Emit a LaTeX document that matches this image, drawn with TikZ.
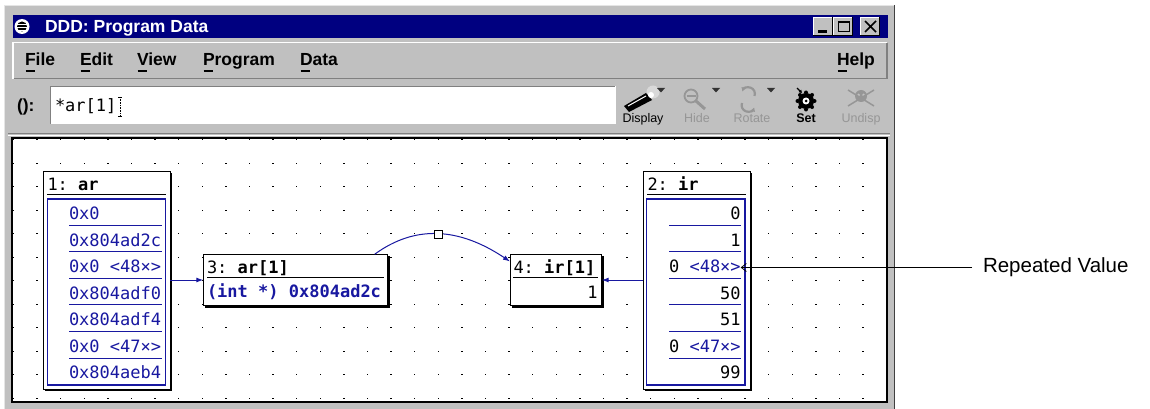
\documentclass[tikz,border=0pt]{standalone}
\usepackage{fontspec}
\setmainfont{Liberation Sans}
\setmonofont{DejaVu Sans Mono}
\usepackage{xcolor}
\usetikzlibrary{arrows.meta,shadows}

\definecolor{titleblue}{RGB}{0,0,128}
\definecolor{wingray}{RGB}{192,192,192}
\definecolor{shadegray}{RGB}{128,128,128}
\definecolor{offgray}{RGB}{150,150,150}
\definecolor{valblue}{RGB}{24,24,160}

\newcommand\guifont{\fontsize{17.5}{20}\selectfont\bfseries}
\newcommand\datafont{\ttfamily\fontsize{17}{20}\selectfont}
\newcommand\tipfont{\fontsize{12.5}{14}\selectfont}

\begin{document}
\begin{tikzpicture}[x=1pt, y=-1pt,
    every node/.style={inner sep=0pt, outer sep=0pt},
    databox/.style={draw, line width=1pt, fill=white,
      drop shadow={shadow xshift=2pt, shadow yshift=-2pt, fill=black, opacity=1}},
    valbox/.style={draw=valblue, line width=1.2pt},
    sepline/.style={valblue, line width=1pt},
    datatext/.style={font=\datafont, anchor=base west},
    dataedge/.style={valblue, line width=1pt, -{Latex[length=7pt,width=5pt]}},
    menuitem/.style={font=\guifont, anchor=base west},
    tiplabel/.style={font=\tipfont, anchor=base},
    callout/.style={line width=0.8pt, -{Straight Barb[length=5pt,width=8pt]}}]
	\useasboundingbox (0,0) rectangle (1150,409);
	
	% screen and window frame
	\fill[white] (0,0) rectangle (1150,409);
	\fill[wingray] (4,5) rectangle (895,409);
	\draw[white!90!black, line width=1pt] (4.5,409) -- (4.5,5.5) -- (894,5.5);
	\draw[black!75, line width=1.2pt] (894.4,5) -- (894.4,409);
	
	% title bar
	\fill[titleblue] (13,15) rectangle (888,38);
	\fill[white] (22,26.5) circle (7.5);
	\fill[black] (22,26.5) circle (5);
	\foreach \ly in {24,27,30} {
		\draw[white, line width=0.9pt] (17,\ly) -- (27,\ly);
	}
	\node[font=\guifont, text=white, anchor=base west] (title) at (45,33) {DDD: Program Data};
	\foreach \bx in {813,833,860} {
		\fill[wingray] (\bx,17) rectangle ++(20,19);
		\draw[white, line width=1pt] (\bx+0.5,36) -- (\bx+0.5,17.5) -- (\bx+20,17.5);
		\draw[black, line width=1pt] (\bx,35.5) -- (\bx+19.5,35.5) -- (\bx+19.5,17);
	}
	\fill (818,30.5) rectangle (827,33);
	\draw[line width=1pt] (838.5,21.5) rectangle (849.5,32);
	\fill (838,21) rectangle (850,23.5);
	\draw[line width=1.7pt] (865,21) -- (876,32) (876,21) -- (865,32);
	
	% menu bar
	\draw[white, line width=1.5pt] (13,79) -- (13,42.5) -- (887,42.5);
	\draw[shadegray, line width=1.5pt] (13.5,78.5) -- (887,78.5) -- (887,43);
	\foreach \mx/\mname in {25/File, 80/Edit, 137/View, 203/Program, 300/Data, 837/Help} {
		\node[menuitem] (menu-\mname) at (\mx,66) {\mname};
		\draw[line width=1.3pt] (\mx+0.5,71) -- (\mx+9.5,71);
	}
	
	% argument field
	\node[font=\guifont, anchor=base west] (prompt) at (17,111) {():};
	\fill[white] (50,86) rectangle (615,124);
	\draw[shadegray, line width=1pt] (50,124) -- (50,86.5) -- (615,86.5);
	\draw[white, line width=1pt] (50.5,124) -- (615,124) -- (615,86);
	\node[font=\datafont, anchor=base west] (arg) at (55,111) {*ar[1]};
	\draw[line width=0.6pt, densely dotted] (120,97) -- (120,116);
	\draw[line width=0.6pt] (118,97) -- (122,97) (118,116) -- (122,116);
	
	% toolbar
	\fill[black!15] (653,92) circle (6.5);
	\fill[black] (624,106) -- (646,93) -- (652,100) -- (629,112) -- cycle;
	\draw[white, line width=1pt] (628,106) -- (646,96);
	\fill[white] (651,95) circle (3);
	\draw[offgray, line width=1.8pt] (691,96) circle (6.5);
	\draw[offgray, line width=1.8pt] (686.5,96) -- (695.5,96);
	\draw[offgray, line width=3pt] (696,101) -- (705,109);
	\draw[offgray, line width=2.2pt, -{Latex[length=4pt,width=5pt]}] (742,103) arc (200:20:6.5);
	\draw[offgray, line width=2.2pt, -{Latex[length=4pt,width=5pt]}] (754.5,96) arc (20:-160:6.5);
	\fill[black] (806,101) circle (8);
	\foreach \ang in {0,45,...,315} {
		\fill[black] (806,101) ++(\ang:8.5) circle (2);
	}
	\fill[white] (806,101) circle (3.5);
	\fill[black] (806,101) circle (1.5);
	\draw[black, line width=1.2pt, -{Latex[length=3pt,width=4pt]}] (797,88) -- (802,93);
	\fill[offgray] (861,96) circle (6);
	\fill[wingray] (858.5,95) circle (1.5) (863.5,95) circle (1.5);
	\draw[offgray, line width=1.5pt] (848,90) -- (874,106) (848,106) -- (874,90);
	\foreach \tx in {657,712,767} {
		\fill[black!80] (\tx,88) -- (\tx+8,88) -- (\tx+4,92.5) -- cycle;
	}
	\node[tiplabel] (tip-display) at (643,123) {Display};
	\node[tiplabel, text=offgray] (tip-hide) at (697,123) {Hide};
	\node[tiplabel, text=offgray] (tip-rotate) at (752,123) {Rotate};
	\node[tiplabel, font=\tipfont\bfseries] (tip-set) at (806,123) {Set};
	\node[tiplabel, text=offgray] (tip-undisp) at (861,123) {Undisp};
	
	% data window with dot grid
	\draw[shadegray, line width=1pt] (8,133.5) -- (890,133.5);
	\draw[white, line width=1pt] (8,135) -- (890,135);
	\fill[white] (12,138) rectangle (887,402);
	\draw[black, line width=1.4pt] (12,138) rectangle (887,402);
	\foreach \i in {0,...,37} {
		\foreach \j in {0,...,11} {
			\fill (12.8+23.6*\i, 139+23.5*\j) rectangle ++(1.4,1.4);
		}
	}
	
	% data displays
	\node[databox, minimum width=126.7pt, minimum height=218pt] (ar) at (106.65,280) {};
	\node[databox, minimum width=106.7pt, minimum height=218pt] (ir) at (696.65,280) {};
	\node[databox, minimum width=184.4pt, minimum height=51.4pt] (arone) at (295.5,280) {};
	\node[databox, minimum width=91.7pt, minimum height=51.4pt] (irone) at (555.85,280) {};
	
	\node[datatext] (ar-title) at (47.5,190.5) {1: \textbf{ar}};
	\draw[line width=1pt] (47,194.5) -- (166,194.5);
	\node[valbox, minimum width=118pt, minimum height=186pt] (ar-val) at (106.7,292) {};
	\foreach \row/\val in {1/0x0, 2/0x804ad2c, 3/0x0 <48×>, 4/0x804adf0, 5/0x804adf4, 6/0x0 <47×>, 7/0x804aeb4} {
		\node[datatext, text=valblue] (ar-\row) at (69,219.5+26.55*\row-26.55) {\val};
	}
	\foreach \row in {1,...,6} {
		\draw[sepline] (69,198.4+26.6*\row) -- (161.7,198.4+26.6*\row);
	}
	
	\node[datatext] (ir-title) at (647.5,190.5) {2: \textbf{ir}};
	\draw[line width=1pt] (647,194.5) -- (746,194.5);
	\node[valbox, minimum width=98.3pt, minimum height=186pt] (ir-val) at (695.85,292) {};
	\foreach \row/\val in {1/0, 2/1, 3/{0 \textcolor{valblue}{<48×>}}, 4/50, 5/51, 6/{0 \textcolor{valblue}{<47×>}}, 7/99} {
		\node[datatext, anchor=base east] (ir-\row) at (740.7,219.5+26.55*\row-26.55) {\val};
	}
	\foreach \row in {1,...,6} {
		\draw[sepline] (669,198.4+26.6*\row) -- (740.7,198.4+26.6*\row);
	}
	
	\node[datatext] (arone-title) at (207,273.5) {3: \textbf{ar[1]}};
	\draw[line width=1pt] (207,277.7) -- (383.5,277.7);
	\node[datatext, text=valblue] (arone-val) at (207,297.5) {\textbf{(int *) 0x804ad2c}};
	
	\node[datatext] (irone-title) at (513.5,273.5) {4: \textbf{ir[1]}};
	\draw[line width=1pt] (513,277.5) -- (597.5,277.5);
	\node[datatext, anchor=base east] (irone-val) at (597.5,298) {1};
	
	% references between displays
	\draw[dataedge] (ar) -- (arone);
	\draw[dataedge] (ir) -- (irone);
	\draw[dataedge] (arone.18) .. controls (415,224.8) and (458.8,227.2) .. (irone.158)
		node[pos=0.5, draw=black, fill=white, line width=0.8pt, minimum size=8pt] (hint) {};
	
	% annotation
	\node[font=\fontsize{20.5}{24}\selectfont, anchor=west] (repeat) at (983,267.5) {Repeated Value};
	\draw[callout, shorten <=11pt] (repeat.west) -- (repeat.west -| ir-3.east);
\end{tikzpicture}
\end{document}
